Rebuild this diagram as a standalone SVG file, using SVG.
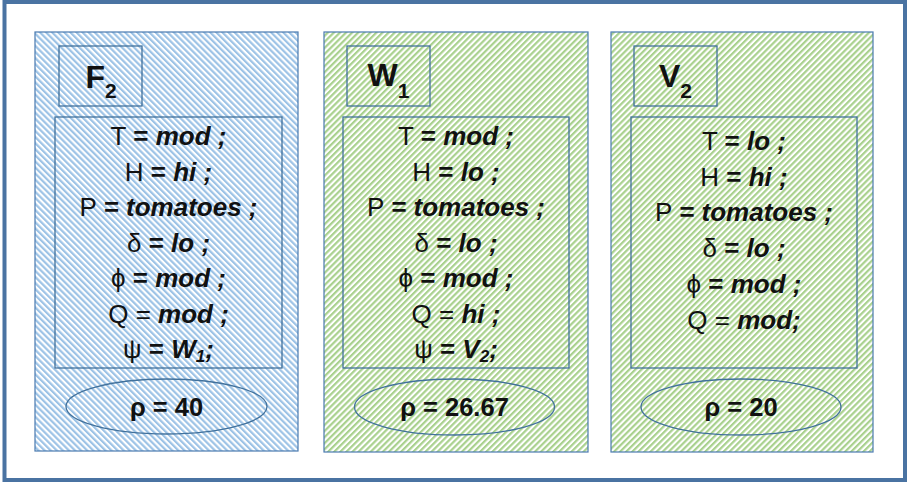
<svg xmlns="http://www.w3.org/2000/svg" width="909" height="482" viewBox="0 0 909 482">
<style>
.frame{fill:#fff;stroke:#4a73a2;stroke-width:4}
.panel{stroke:#4a7ab0;stroke-width:1.2}
.box{fill:none;stroke:#41719c;stroke-width:1.3}
.t{font-family:"Liberation Sans",Arial,sans-serif;font-size:26px;fill:#111;text-anchor:middle}
.v{font-weight:bold;font-style:italic}
.b{font-weight:bold}
.ttl{font-family:"Liberation Sans",Arial,sans-serif;font-size:32px;font-weight:bold;fill:#111;text-anchor:middle}
.sub{font-size:21px}
.rho{font-family:"Liberation Sans",Arial,sans-serif;font-size:25.5px;font-weight:bold;fill:#111;text-anchor:middle}
</style>
<defs>
<pattern id="blueHatch" patternUnits="userSpaceOnUse" width="4.3" height="10" patternTransform="rotate(-45)">
<rect width="4.3" height="10" fill="#fff"/>
<rect width="2.2" height="10" fill="#9dc3e6"/>
</pattern>
<pattern id="greenHatch" patternUnits="userSpaceOnUse" width="4.3" height="10" patternTransform="rotate(45)">
<rect width="4.3" height="10" fill="#fff"/>
<rect width="2.2" height="10" fill="#a9d18e"/>
</pattern>
</defs>
<rect class="frame" x="4.5" y="2" width="900.5" height="478"/>
<g id="connectors"></g>
<g id="node-F2">
<rect class="panel" x="35" y="32" width="263" height="419" fill="url(#blueHatch)"/>
<rect class="box" x="59" y="46" width="83" height="60"/>
<text class="ttl" x="101" y="88">F<tspan class="sub" dy="10">2</tspan></text>
<rect class="box" x="55" y="117" width="227" height="251"/>
<text class="t" x="168.5" y="145">T <tspan class="b">=</tspan> <tspan class="v">mod ;</tspan></text>
<text class="t" x="168.5" y="181">H <tspan class="b">=</tspan> <tspan class="v">hi ;</tspan></text>
<text class="t" x="168.5" y="216">P <tspan class="v">= tomatoes ;</tspan></text>
<text class="t" x="168.5" y="252">δ <tspan class="b">=</tspan> <tspan class="v">lo ;</tspan></text>
<text class="t" x="168.5" y="287">ϕ <tspan class="b">=</tspan> <tspan class="v">mod ;</tspan></text>
<text class="t" x="168.5" y="323">Q = <tspan class="v">mod ;</tspan></text>
<text class="t" x="168.5" y="358">ψ <tspan class="b">=</tspan> <tspan class="v">W<tspan font-size="17" dy="4">1</tspan><tspan dy="-4">;</tspan></tspan></text>
<ellipse class="box" cx="166.5" cy="406.5" rx="100.5" ry="27.5"/>
<text class="rho" x="166.5" y="416">ρ = 40</text>
</g>
<g id="node-W1">
<rect class="panel" x="324" y="32" width="264" height="420" fill="url(#greenHatch)"/>
<rect class="box" x="347" y="46" width="83" height="60"/>
<text class="ttl" x="388.5" y="86">W<tspan class="sub" dy="12">1</tspan></text>
<rect class="box" x="343" y="117" width="226" height="251"/>
<text class="t" x="456" y="145">T <tspan class="b">=</tspan> <tspan class="v">mod ;</tspan></text>
<text class="t" x="456" y="181">H <tspan class="b">=</tspan> <tspan class="v">lo ;</tspan></text>
<text class="t" x="456" y="216">P <tspan class="v">= tomatoes ;</tspan></text>
<text class="t" x="456" y="252">δ <tspan class="b">=</tspan> <tspan class="v">lo ;</tspan></text>
<text class="t" x="456" y="287">ϕ <tspan class="b">=</tspan> <tspan class="v">mod ;</tspan></text>
<text class="t" x="456" y="323">Q = <tspan class="v">hi ;</tspan></text>
<text class="t" x="456" y="358">ψ <tspan class="b">=</tspan> <tspan class="v">V<tspan font-size="17" dy="4">2</tspan><tspan dy="-4">;</tspan></tspan></text>
<ellipse class="box" cx="454.5" cy="407" rx="100" ry="28"/>
<text class="rho" x="454.5" y="416">ρ = 26.67</text>
</g>
<g id="node-V2">
<rect class="panel" x="611" y="32" width="262" height="420" fill="url(#greenHatch)"/>
<rect class="box" x="634" y="46" width="83" height="60"/>
<text class="ttl" x="675.5" y="87">V<tspan class="sub" dy="11">2</tspan></text>
<rect class="box" x="631" y="117" width="226" height="251"/>
<text class="t" x="744" y="150">T <tspan class="b">=</tspan> <tspan class="v">lo ;</tspan></text>
<text class="t" x="744" y="186">H <tspan class="b">=</tspan> <tspan class="v">hi ;</tspan></text>
<text class="t" x="744" y="221">P <tspan class="v">= tomatoes ;</tspan></text>
<text class="t" x="744" y="257">δ <tspan class="b">=</tspan> <tspan class="v">lo ;</tspan></text>
<text class="t" x="744" y="293">ϕ <tspan class="b">=</tspan> <tspan class="v">mod ;</tspan></text>
<text class="t" x="744" y="329">Q = <tspan class="v">mod;</tspan></text>
<ellipse class="box" cx="741" cy="407" rx="100" ry="28"/>
<text class="rho" x="741" y="416">ρ = 20</text>
</g>
</svg>
